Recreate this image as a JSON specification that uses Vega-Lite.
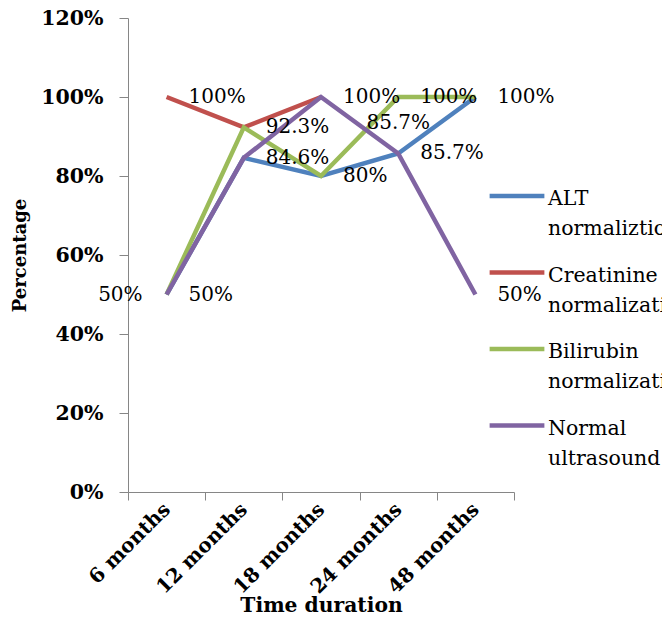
{
  "$schema": "https://vega.github.io/schema/vega-lite/v6.json",
  "width": 386,
  "height": 474,
  "autosize": {"type": "none"},
  "padding": {"left": 128, "top": 18, "right": 148, "bottom": 135},
  "config": {"view": {"stroke": null}, "font": "DejaVu Serif"},
  "data": {
    "values": [
      {"series": "ALT normaliztion", "time": "6 months", "value": 0.5},
      {"series": "ALT normaliztion", "time": "12 months", "value": 0.846},
      {"series": "ALT normaliztion", "time": "18 months", "value": 0.8},
      {"series": "ALT normaliztion", "time": "24 months", "value": 0.857},
      {"series": "ALT normaliztion", "time": "48 months", "value": 1.0},
      {"series": "Creatinine normalization", "time": "6 months", "value": 1.0},
      {"series": "Creatinine normalization", "time": "12 months", "value": 0.923},
      {"series": "Creatinine normalization", "time": "18 months", "value": 1.0},
      {"series": "Bilirubin normalization", "time": "6 months", "value": 0.5},
      {"series": "Bilirubin normalization", "time": "12 months", "value": 0.923},
      {"series": "Bilirubin normalization", "time": "18 months", "value": 0.8},
      {"series": "Bilirubin normalization", "time": "24 months", "value": 1.0},
      {"series": "Bilirubin normalization", "time": "48 months", "value": 1.0},
      {"series": "Normal ultrasound", "time": "6 months", "value": 0.5},
      {"series": "Normal ultrasound", "time": "12 months", "value": 0.846},
      {"series": "Normal ultrasound", "time": "18 months", "value": 1.0},
      {"series": "Normal ultrasound", "time": "24 months", "value": 0.857},
      {"series": "Normal ultrasound", "time": "48 months", "value": 0.5}
    ]
  },
  "encoding": {
    "x": {
      "field": "time",
      "type": "ordinal",
      "sort": ["6 months", "12 months", "18 months", "24 months", "48 months"],
      "bandPosition": 0.5,
      "scale": {"type": "band", "paddingInner": 0, "paddingOuter": 0},
      "axis": {
        "title": "Time duration",
        "titleFontSize": 20.3,
        "titleFontWeight": "bold",
        "titleColor": "black",
        "titleY": 119,
        "titleBaseline": "alphabetic",
        "labelAngle": -45,
        "labelAlign": "right",
        "labelBaseline": "middle",
        "labelFontSize": 20,
        "labelFontWeight": "bold",
        "labelColor": "black",
        "labelPadding": 6,
        "labelOverlap": false,
        "labelBound": false,
        "labelFlush": false,
        "domainColor": "#868686",
        "tickColor": "#868686",
        "tickSize": 8,
        "tickBand": "extent",
        "grid": false
      }
    },
    "y": {
      "field": "value",
      "type": "quantitative",
      "scale": {"domain": [0, 1.2], "nice": false},
      "axis": {
        "title": "Percentage",
        "titleFontSize": 18,
        "titleFontWeight": "bold",
        "titleColor": "black",
        "titleAngle": 270,
        "titleX": -108,
        "titleY": 237,
        "titleAlign": "center",
        "titleBaseline": "middle",
        "format": ".0%",
        "values": [0, 0.2, 0.4, 0.6, 0.8, 1.0, 1.2],
        "labelFontSize": 20.5,
        "labelFontWeight": "bold",
        "labelColor": "black",
        "labelPadding": 16,
        "domainColor": "#868686",
        "tickColor": "#868686",
        "tickSize": 9,
        "grid": false
      }
    }
  },
  "layer": [
    {
      "mark": {"type": "line", "strokeWidth": 4.5},
      "encoding": {
        "color": {
          "field": "series",
          "type": "nominal",
          "scale": {
            "domain": ["ALT normaliztion", "Creatinine normalization", "Bilirubin normalization", "Normal ultrasound"],
            "range": ["#4F81BD", "#C0504D", "#9BBB59", "#8064A2"]
          },
          "legend": {
            "orient": "none",
            "legendX": 359,
            "legendY": 148,
            "title": null,
            "symbolType": "stroke",
            "symbolSize": 3000,
            "symbolStrokeWidth": 4.5,
            "labelFontSize": 20.5,
            "labelColor": "black",
            "labelOffset": 1,
            "labelLimit": 500,
            "labelBaseline": "alphabetic",
            "rowPadding": 2.5,
            "labelExpr": "split(datum.label, ' ')",
            "encode": {"labels": {"update": {"dy": {"value": 9}, "lineHeight": {"value": 30}}}}
          }
        }
      }
    },
    {
      "transform": [{"filter": "datum.series == 'Bilirubin normalization' || (datum.series == 'Normal ultrasound' && datum.time != '6 months') || (datum.series == 'Creatinine normalization' && datum.time == '6 months')"}],
      "mark": {"type": "text", "align": "left", "baseline": "middle", "dx": 22, "fontSize": 20, "color": "black"},
      "encoding": {"text": {"field": "value", "type": "quantitative", "format": "~%"}}
    },
    {
      "transform": [{"filter": "datum.series == 'ALT normaliztion' && datum.time == '6 months'"}],
      "mark": {"type": "text", "align": "right", "baseline": "middle", "dx": -24, "fontSize": 20, "color": "black"},
      "encoding": {"text": {"field": "value", "type": "quantitative", "format": "~%"}}
    },
    {
      "transform": [{"filter": "datum.series == 'ALT normaliztion' && datum.time == '24 months'"}],
      "mark": {"type": "text", "align": "center", "baseline": "middle", "dy": -30, "fontSize": 20, "color": "black"},
      "encoding": {"text": {"field": "value", "type": "quantitative", "format": "~%"}}
    }
  ]
}
